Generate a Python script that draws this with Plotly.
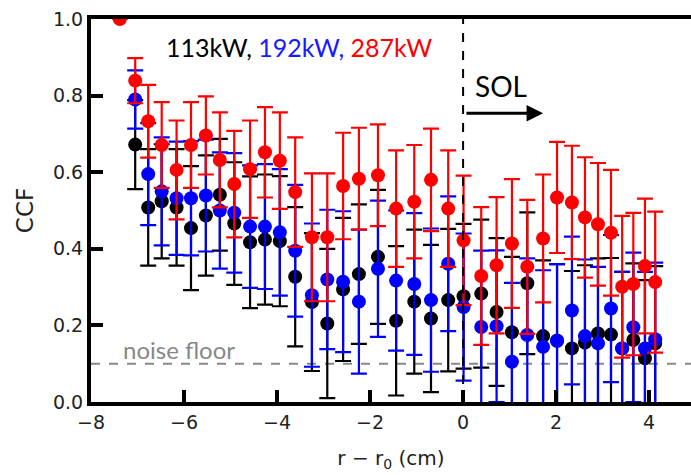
import plotly.graph_objects as go

# radial positions (cm)
r_pos = [-7.38, -7.05, -6.77, -6.48, -6.16, -5.85, -5.53, -5.23, -4.92, -4.58, -4.26,
         -3.94, -3.61, -3.25, -2.92, -2.58, -2.24, -1.83, -1.44, -1.05, -0.69, -0.32,
         0.01, 0.39, 0.72, 1.05, 1.38, 1.72, 2.02, 2.34, 2.62, 2.90, 3.18, 3.42, 3.66,
         3.91, 4.13]

ccf_113 = [None, 0.672, 0.508, 0.524, 0.508, 0.454, 0.487, 0.541, 0.466, 0.417, 0.424,
           0.42, 0.327, 0.261, 0.205, 0.294, 0.334, 0.379, 0.212, 0.262, 0.218, 0.266,
           0.276, 0.283, 0.235, 0.182, 0.31, 0.172, 0.16, 0.14, 0.155, 0.179, 0.176,
           0.14, 0.162, 0.114, 0.153]
err_113 = [0, 0.116, 0.152, 0.149, 0.152, 0.162, 0.157, 0.146, 0.160, 0.172, 0.170,
           0.170, 0.182, 0.180, 0.195, 0.187, 0.182, 0.175, 0.195, 0.188, 0.192, 0.186,
           0.189, 0.193, 0.193, 0.197, 0.185, 0.198, 0.2, 0.202, 0.202, 0.196, 0.2,
           0.2, 0.2, 0.204, 0.202]

ccf_192 = [None, 0.79, 0.595, 0.55, 0.532, 0.532, 0.539, 0.50, 0.494, 0.458, 0.458,
           0.443, 0.395, 0.279, 0.32, 0.314, 0.262, 0.348, 0.317, 0.308, 0.266, 0.361,
           0.248, 0.196, 0.198, 0.105, 0.175, 0.144, 0.16, 0.239, 0.172, 0.153, 0.244,
           0.14, 0.195, 0.14, 0.164]
err_192 = [0, 0.076, 0.133, 0.141, 0.148, 0.149, 0.146, 0.152, 0.156, 0.16, 0.163,
           0.165, 0.172, 0.187, 0.182, 0.184, 0.188, 0.178, 0.183, 0.185, 0.187, 0.176,
           0.192, 0.199, 0.198, 0.206, 0.2, 0.2, 0.2, 0.193, 0.2, 0.2, 0.192,
           0.2, 0.195, 0.2, 0.2]

ccf_287 = [1.0, 0.839, 0.733, 0.671, 0.606, 0.671, 0.696, 0.632, 0.569, 0.608, 0.652,
           0.63, 0.548, 0.43, 0.43, 0.564, 0.583, 0.592, 0.505, 0.523, 0.58, 0.505,
           0.422, 0.329, 0.357, 0.414, 0.353, 0.427, 0.534, 0.521, 0.482, 0.464, 0.442,
           0.301, 0.308, 0.355, 0.313]
err_287 = [0, 0.059, 0.095, 0.112, 0.129, 0.112, 0.102, 0.124, 0.139, 0.127, 0.118,
           0.126, 0.143, 0.167, 0.167, 0.139, 0.133, 0.133, 0.152, 0.148, 0.134, 0.152,
           0.169, 0.18, 0.178, 0.168, 0.175, 0.167, 0.145, 0.148, 0.157, 0.16, 0.164,
           0.185, 0.186, 0.176, 0.184]

noise_floor = 0.1
x_ticks = [-8, -6, -4, -2, 0, 2, 4]
y_ticks = [0.0, 0.2, 0.4, 0.6, 0.8, 1.0]

series = [("113kW", ccf_113, err_113, "black"),
          ("192kW", ccf_192, err_192, "#0000ff"),
          ("287kW", ccf_287, err_287, "#ff0000")]

fig = go.Figure()

# noise floor line
fig.add_shape(type="line", xref="paper", yref="y", x0=0, x1=1, y0=noise_floor, y1=noise_floor,
              line=dict(color="#888888", width=2, dash="dash"), layer="below")
# separatrix line
fig.add_shape(type="line", xref="x", yref="paper", x0=0, x1=0, y0=0, y1=1,
              line=dict(color="black", width=2, dash="dash"), layer="above")

for name, vals, errs, col in series:
    fig.add_trace(go.Scatter(
        x=r_pos, y=vals, mode="markers", name=name,
        marker=dict(color=col, size=14, line=dict(width=0)),
        error_y=dict(type="data", array=errs, visible=True, color=col,
                     thickness=2.2, width=8),
        cliponaxis=True, showlegend=False))

fig.add_annotation(x=0.22, y=0.826, xref="x", yref="y", xanchor="left", yanchor="middle",
                   text="SOL", showarrow=False, font=dict(family="Lato", size=28, color="black"))
fig.add_annotation(x=1.72, y=0.754, ax=0.04, ay=0.754, xref="x", yref="y", axref="x", ayref="y",
                   text="", showarrow=True, arrowhead=2, arrowsize=1.1, arrowwidth=3,
                   arrowcolor="black")
fig.add_annotation(x=-6.44, y=0.926, xref="x", yref="y", xanchor="left", yanchor="middle",
                   text="113kW, <span style='color:#1a1aff'>192kW,</span> <span style='color:#ff0000'>287kW</span>",
                   showarrow=False, font=dict(family="Lato", size=25, color="black"))
fig.add_annotation(x=-7.36, y=0.136, xref="x", yref="y", xanchor="left", yanchor="middle",
                   text="noise floor", showarrow=False,
                   font=dict(family="Lato", size=24, color="#888888"))

fig.update_layout(
    width=691, height=475,
    margin=dict(l=91, r=0, t=19, b=73),
    plot_bgcolor="white", paper_bgcolor="white",
    font=dict(family="DejaVu Sans", size=19, color="#222222"),
)
fig.update_xaxes(range=[-8, 4.9], tickvals=x_ticks, ticktext=[("−" + str(-v)) if v < 0 else str(v) for v in x_ticks],
                 ticks="inside", ticklen=12, tickwidth=4, tickcolor="black",
                 showline=True, linewidth=4, linecolor="black", mirror=True,
                 showgrid=False, zeroline=False,
                 title=dict(text="r − r<sub>0</sub> (cm)", font=dict(family="DejaVu Sans", size=20), standoff=20),
                 tickfont=dict(family="DejaVu Sans", size=19))
fig.update_yaxes(range=[0, 1.0], tickvals=y_ticks, ticktext=[f"{v:.1f}" for v in y_ticks],
                 ticks="inside", ticklen=12, tickwidth=4, tickcolor="black",
                 showline=True, linewidth=4, linecolor="black", mirror=False,
                 showgrid=False, zeroline=False,
                 title=dict(text="CCF", font=dict(family="DejaVu Sans", size=23), standoff=14),
                 tickfont=dict(family="DejaVu Sans", size=19))

fig.write_html("out.html")
